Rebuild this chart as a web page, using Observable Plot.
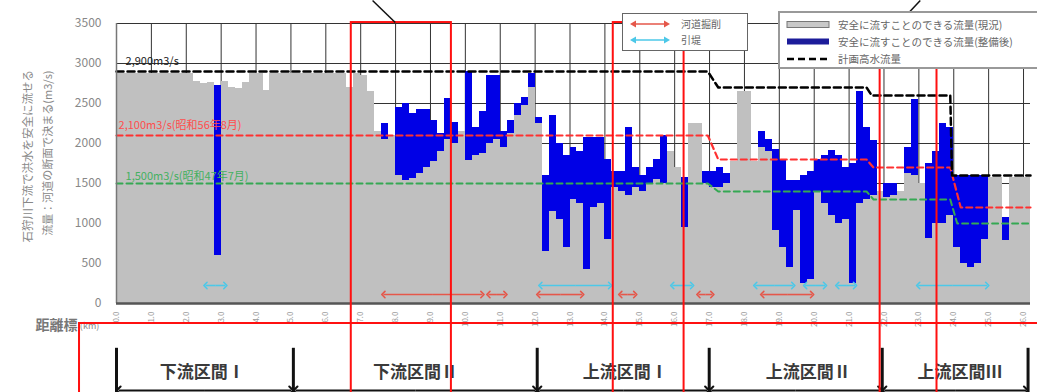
<!DOCTYPE html>
<html><head><meta charset="utf-8">
<script src="https://cdn.jsdelivr.net/npm/d3@7"></script>
<script src="https://cdn.jsdelivr.net/npm/@observablehq/plot@0.6"></script>
<style>
body{margin:0;background:#fff;font-family:"Noto Sans CJK JP","Noto Sans",sans-serif;}
#wrap{position:relative;width:1037px;height:392px;overflow:hidden;}
.lg{position:absolute;background:#fff;box-sizing:border-box;font-size:10px;color:#666;}
.row{position:absolute;display:flex;align-items:center;white-space:nowrap;}
</style></head><body><div id="wrap"></div>
<script>
// ---- data ----
const km = d3.range(131).map(i => Math.round(i * 2) / 10); // 0.2 km sections
const current = [
 2880,2880,2880,2880,2880,2880,2880,2880,2880,2880,
 2880,2780,2750,2760,600,2780,2700,2690,2760,2880,
 2880,2660,2880,2880,2880,2880,2880,2880,2880,2880,
 2880,2880,2880,2700,2870,2850,2650,2150,2050,2100,
 1600,1540,1560,1620,1700,1780,1900,2050,2000,2150,
 1790,1850,1880,2000,2050,1950,2120,2350,2480,2700,
 2250,650,1150,1050,700,1300,1250,420,1200,1250,
 800,1450,1400,1350,1450,1400,1500,1550,1500,1900,
 1700,950,2250,2250,1500,1450,1450,1500,1780,2650,
 2650,1780,1950,1900,910,700,450,1160,250,300,
 1400,1250,1100,1000,1050,250,1250,1300,1350,1400,
 1330,1350,1400,1620,1600,1500,810,1000,1000,1100,
 700,500,450,500,800,1580,1580,790,1580,1580,
 1580];
const after = [
 null,null,null,null,null,null,null,null,null,null,
 null,null,null,null,2720,null,null,null,null,null,
 null,null,null,null,null,null,null,null,null,null,
 null,null,null,null,null,null,null,null,2250,null,
 2450,2500,2370,2430,2430,2290,2120,2560,2260,null,
 2900,2200,2400,2850,2850,2150,2290,2500,2580,2880,
 2330,1600,2350,2000,1850,1950,1900,2080,2080,2080,
 1800,1650,1650,2200,1700,1600,1700,1800,2100,null,
 null,1580,null,null,1650,1650,1700,1620,null,null,
 null,null,2150,2050,1920,1800,1540,1540,1600,1650,
 1800,1850,1910,1850,1700,1750,2650,2200,2040,null,
 1500,1500,null,1950,2550,null,1750,1900,2250,2200,
 1600,1600,1600,1600,1600,null,null,1080,null,null,
 null];
const planKm   = [0, 16.95, 17.25, 21.5, 21.65, 23.9, 23.95, 26.2];
const planQ    = [2900, 2900, 2700, 2700, 2600, 2600, 1600, 1600];
const redKm    = [0, 16.95, 17.25, 21.5, 21.7, 23.9, 24.2, 26.2];
const redQ     = [2100, 2100, 1800, 1800, 1700, 1700, 1200, 1200];
const greenKm  = [0, 16.95, 17.25, 21.5, 21.7, 23.9, 24.1, 26.2];
const greenQ   = [1500, 1500, 1400, 1400, 1300, 1300, 1000, 1000];
const excavFrom = [7.65, 10.66, 12.09, 14.44, 16.68, 18.51];
const excavTo   = [10.49, 11.15, 13.35, 14.87, 17.08, 19.94];
const setbackFrom = [2.55, 12.15, 15.93, 18.31, 19.74, 20.66, 22.98];
const setbackTo   = [3.12, 14.15, 16.5, 19.4, 20.31, 21.17, 24.96];
const kmTicks = d3.range(0, 27);
const yTicks = [0, 500, 1000, 1500, 2000, 2500, 3000, 3500];
const sectionNames = ["下流区間Ⅰ", "下流区間Ⅱ", "上流区間Ⅰ", "上流区間Ⅱ", "上流区間Ⅲ"];
const sectionBounds = [0, 5.07, 12.06, 16.99, 21.95, 26.13];
const sectionLabelKm = [2.46, 8.57, 14.58, 19.83, 24.18];
const boxFrom = [6.73, 14.24, 21.89];
const boxTo   = [9.6, 16.27, 23.52];

// ---- tables ----
const bars = km.map((k, i) => ({x1: k, x2: k + 0.2, current: current[i], after: after[i]}));
const mk = (xs, ys) => xs.map((x, i) => ({x, y: ys[i]}));
const plan = mk(planKm, planQ), red = mk(redKm, redQ), green = mk(greenKm, greenQ);
// double-headed arrows: two halves drawn from the middle outward
const halves = (from, to) => from.flatMap((a, i) => {
  const m = (a + to[i]) / 2;
  return [{m, e: a}, {m, e: to[i]}];
});
const excav = halves(excavFrom, excavTo);
const setback = halves(setbackFrom, setbackTo);
const sections = sectionNames.map((n, i) => ({n, c: sectionLabelKm[i]}));
const sectionArrows = halves(sectionBounds.slice(0, -1).map(d => d + 0.06), sectionBounds.slice(1).map(d => d - 0.06));
const boxes = boxFrom.map((a, i) => ({a, b: boxTo[i]}));

const font = "Noto Sans CJK JP, Noto Sans, sans-serif";
const chart = Plot.plot({
  width: 1037, height: 392,
  marginLeft: 116, marginRight: 7, marginTop: 23, marginBottom: 89,
  x: {domain: [0, 26.2]},
  y: {domain: [0, 3500]},
  style: {fontFamily: font, background: "#fff", overflow: "hidden"},
  marks: [
    Plot.ruleX(kmTicks, {stroke: "#333", strokeWidth: 1}),
    Plot.ruleY(yTicks, {stroke: "#333", strokeWidth: 1}),
    Plot.rectY(bars.filter(d => d.after != null), {x1: "x1", x2: "x2", y: "after", fill: "#0000e6", shapeRendering: "crispEdges"}),
    Plot.rectY(bars, {x1: "x1", x2: "x2", y: "current", fill: "#c0c0c0", shapeRendering: "crispEdges"}),
    Plot.line(green, {x: "x", y: "y", stroke: "#35a853", strokeWidth: 2, strokeDasharray: "6,4"}),
    Plot.line(red, {x: "x", y: "y", stroke: "#ff3030", strokeWidth: 2.2, strokeDasharray: "6,4"}),
    Plot.line(plan, {x: "x", y: "y", stroke: "#000", strokeWidth: 2.5, strokeDasharray: "7,4"}),
    Plot.text(["2,900m3/s"], {x: 0.26, y: 3030, text: d => d, textAnchor: "start", fill: "#222", fontSize: 11}),
    Plot.text(["2,100m3/s(昭和56年8月)"], {x: 0.06, y: 2225, text: d => d, textAnchor: "start", fill: "#ff4d4d", fontSize: 11}),
    Plot.text(["1,500m3/s(昭和47年7月)"], {x: 0.26, y: 1590, text: d => d, textAnchor: "start", fill: "#44b060", fontSize: 11}),
    Plot.link(setback, {x1: "m", x2: "e", y1: 225, y2: 225, stroke: "#4cc8e8", strokeWidth: 1.6, markerEnd: "arrow"}),
    Plot.link(excav, {x1: "m", x2: "e", y1: 112, y2: 112, stroke: "#e5574a", strokeWidth: 1.6, markerEnd: "arrow"}),
    Plot.ruleX([0], {stroke: "#777", strokeWidth: 1.5}),
    Plot.ruleY([0], {stroke: "#555", strokeWidth: 2.5}),
    Plot.axisY({ticks: yTicks, tickSize: 0, tickPadding: 15, fontSize: 12, fill: "#888", tickFormat: d => String(d)}),
    Plot.axisX({ticks: kmTicks, tickSize: 0, tickRotate: -90, tickPadding: 8, fontSize: 8, fill: "#999", tickFormat: d => d.toFixed(1)}),
    // y title
    Plot.text(["石狩川下流で洪水を安全に流せる"], {x: -2.52, y: 1840, text: d => d, rotate: -90, fill: "#888", fontSize: 11.5}),
    Plot.text(["流量：河道の断面で決まる(m3/s)"], {x: -1.95, y: 1880, text: d => d, rotate: -90, fill: "#888", fontSize: 11}),
    // distance label
    Plot.text(["距離標"], {x: -1.12, y: -270, text: d => d, textAnchor: "end", fill: "#777", fontSize: 14, fontWeight: "bold"}),
    Plot.text(["(km)"], {x: -1.05, y: -280, text: d => d, textAnchor: "start", fill: "#888", fontSize: 9}),
    // section markers below
    Plot.ruleX(sectionBounds, {y1: -560, y2: -1250, stroke: "#111", strokeWidth: 3}),
    Plot.link(sectionArrows, {x1: "m", x2: "e", y1: -1088, y2: -1088, stroke: "#111", strokeWidth: 2, markerEnd: "arrow"}),
    Plot.text(sections, {x: "c", y: -862, text: "n", fill: "#3a3a3a", fontSize: 17, fontWeight: "bold"}),
    // annotation boxes and callout lines
    Plot.rect(boxes, {x1: "a", x2: "b", y1: 3512, y2: -1400, fill: "none", stroke: "#ff1010", strokeWidth: 2}),
    Plot.rect([{a: -1.06, b: 27}], {x1: "a", x2: "b", y1: -250, y2: -1400, fill: "none", stroke: "#ff1010", strokeWidth: 2}),
    Plot.link([{a: 7.34, b: 7.99, p: 3787, q: 3512}, {a: 23.04, b: 22.69, p: 3787, q: 3625}], {x1: "a", x2: "b", y1: "p", y2: "q", stroke: "#111", strokeWidth: 1.5})
  ]
});
const wrap = document.getElementById("wrap");
wrap.appendChild(chart);

// legends (inside plot area, top right)
function arrowSvg(color) {
  return `<svg width="42" height="10"><line x1="4" y1="5" x2="38" y2="5" stroke="${color}" stroke-width="1.6"/>
  <path d="M1,5 L7,1.5 L7,8.5 Z" fill="${color}"/><path d="M41,5 L35,1.5 L35,8.5 Z" fill="${color}"/></svg>`;
}
const small = document.createElement("div");
small.className = "lg";
small.style.cssText = "left:622px;top:13px;width:126px;height:38px;border:1.5px solid #666;";
small.innerHTML = `<div class="row" style="left:6px;top:2px;">${arrowSvg("#e5574a")}<span style="margin-left:10px">河道掘削</span></div>
<div class="row" style="left:6px;top:18px;">${arrowSvg("#4cc8e8")}<span style="margin-left:10px">引堤</span></div>`;
wrap.appendChild(small);
const big = document.createElement("div");
big.className = "lg";
big.style.cssText = "left:778px;top:11px;width:262px;height:58px;border:2px solid #999;font-size:10.5px;";
big.innerHTML = `<div class="row" style="left:6px;top:4px;"><svg width="44" height="10"><rect x="1" y="1.5" width="42" height="6" fill="#c8c8c8" stroke="#777" stroke-width="1"/></svg><span style="margin-left:8px">安全に流すことのできる流量(現況)</span></div>
<div class="row" style="left:6px;top:21px;"><svg width="44" height="10"><rect x="1" y="1.5" width="42" height="6" fill="#1c1c9a"/></svg><span style="margin-left:8px">安全に流すことのできる流量(整備後)</span></div>
<div class="row" style="left:6px;top:38px;"><svg width="44" height="10"><line x1="1" y1="5" x2="43" y2="5" stroke="#000" stroke-width="2.5" stroke-dasharray="7,4"/></svg><span style="margin-left:8px">計画高水流量</span></div>`;
wrap.appendChild(big);
</script></body></html>
